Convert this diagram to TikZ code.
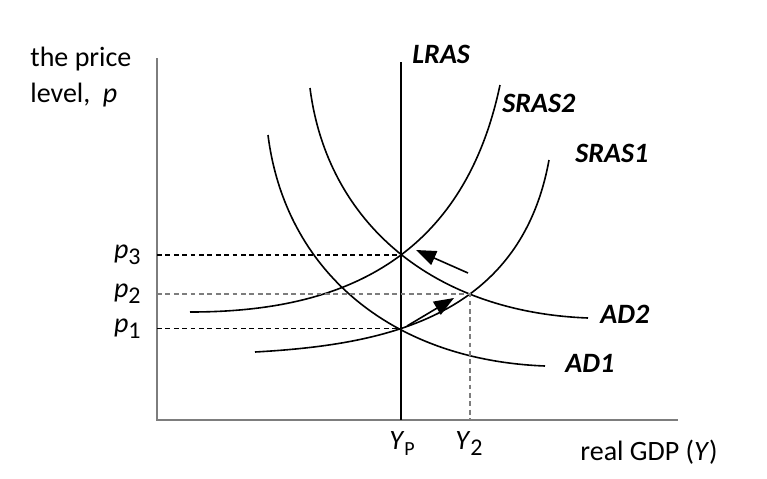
\documentclass[tikz,border=0pt]{standalone}
\usepackage{fontspec}
\setmainfont{Carlito}
\usepackage{tikz}
\usetikzlibrary{
  arrows.meta,
  intersections,
  positioning
}
\definecolor{axisgray}{RGB}{125,125,125}
\tikzset{
  axisline/.style={draw=axisgray, line width=0.7pt},
  curve/.style={draw=black, line width=0.8pt},
  guide/.style={dash pattern=on 2.4pt off 1.8pt, line width=0.75pt},
  guideG/.style={guide, draw=axisgray},
  move/.style={-{Triangle[length=10pt,width=7.5pt]}, line width=0.8pt},
  tag/.style={font=\fontsize{14}{16}\selectfont\bfseries\itshape, inner sep=0pt},
  lbl/.style={font=\fontsize{14}{18}\selectfont, inner sep=0pt}
}
\newcommand{\lowsub}[1]{\raisebox{-0.45ex}{\fontsize{12}{12}\selectfont #1}}

\begin{document}
\begin{tikzpicture}[x=0.5pt, y=-0.5pt]
  \useasboundingbox (0,0) rectangle (767,478);

  % axes
  \coordinate (ytop) at (157,58);
  \coordinate (o) at (157,420);
  \coordinate (xend) at (678,420);
  \draw[axisline] (ytop) -- (o) -- (xend);

  \coordinate (lrastop) at (401,62);
  \coordinate (lrasbot) at (401,420);
  \draw[curve, name path=lras] (lrastop) -- (lrasbot);

  % demand and supply curves
  \draw[curve, name path=ad1] (268,135) .. controls (285,270) and (390,360) .. (545,366);
  \draw[curve, name path=ad2] (310,88) .. controls (327,222) and (432,312) .. (588,318);
  \draw[curve, name path=sras1] (255,352) .. controls (380,345) and (520,320) .. (549,160);
  \draw[curve, name path=sras2] (190,312) .. controls (320,312) and (460,275) .. (500,85);

  \path[name intersections={of=lras and sras1, by=e1}];
  \path[name intersections={of=ad2 and sras1, by=e2}];
  \path[name intersections={of=lras and sras2, by=e3}];

  \coordinate (t1) at (o |- e1);
  \coordinate (t2) at (o |- e2);
  \coordinate (t3) at (o |- e3);
  \coordinate (b2) at (e2 |- o);

  \draw[guide] (t3) -- (e3);
  \draw[guideG] (t2) -- (e2) -- (b2);
  \draw[guide] (t1) -- (e1);

  \coordinate (a1s) at (468,273);
  \coordinate (a1e) at (416,250);
  \coordinate (a2s) at (407,326);
  \coordinate (a2e) at (454,298);
  \draw[move] (a1s) -- (a1e);
  \draw[move] (a2s) -- (a2e);

  % labels
  \node[lbl, align=left, anchor=north west] (ylabel) at (30,47) {the price\\level,\ \ \textit{p}};
  \node[lbl, left=8pt of t3] (p3) {\textit{p}\lowsub{3}};
  \node[lbl, left=8pt of t2] (p2) {\textit{p}\lowsub{2}};
  \node[lbl, left=8pt of t1] (p1) {\textit{p}\lowsub{1}};

  \node[tag, anchor=base west] (lrasl) at (412,63) {LRAS};
  \node[tag, anchor=base west] (sras2l) at (502,112) {SRAS2};
  \node[tag, anchor=base west] (sras1l) at (575,162) {SRAS1};
  \node[tag, anchor=base west] (ad2l) at (600,323) {AD2};
  \node[tag, anchor=base west] (ad1l) at (565,372) {AD1};

  \node[lbl, anchor=base] (yp) at (402,449) {\textit{Y}\lowsub{\fontsize{10}{10}\selectfont P}};
  \node[lbl, anchor=base] (y2) at (469,449) {\textit{Y}\lowsub{2}};
  \node[lbl, anchor=base west] (xlabel) at (580,460) {real GDP (\textit{Y})};
\end{tikzpicture}
\end{document}
